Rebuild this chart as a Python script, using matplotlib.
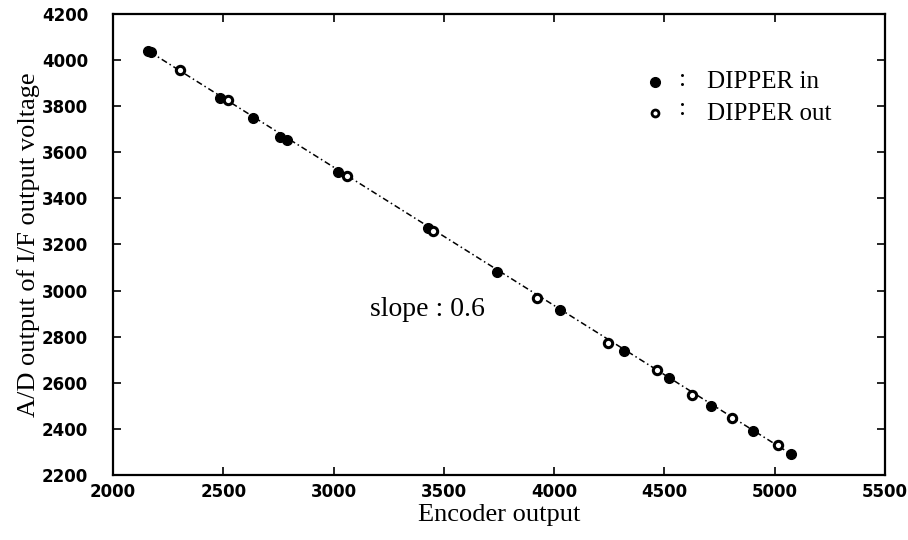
import matplotlib
matplotlib.use("Agg")
import matplotlib.pyplot as plt

# Data
in_x = [2160, 2174, 2485, 2635, 2757, 2789, 3020, 3428, 3741, 4026, 4316, 4520, 4711, 4901, 5073]
in_y = [4038, 4034, 3836, 3749, 3666, 3653, 3515, 3272, 3081, 2916, 2738, 2621, 2499, 2391, 2291]
out_x = [2304, 2521, 3061, 3451, 3922, 4244, 4466, 4625, 4806, 5015]
out_y = [3957, 3827, 3497, 3259, 2968, 2773, 2656, 2547, 2447, 2330]
fit_x = [2168, 5073]
fit_y = [4035, 2291]

x_ticks = [2000, 2500, 3000, 3500, 4000, 4500, 5000, 5500]
y_ticks = [2200, 2400, 2600, 2800, 3000, 3200, 3400, 3600, 3800, 4000, 4200]
x_labels = ["2000", "2500", "3000", "3500", "4000", "4500", "5000", "5500"]
y_labels = ["2200", "2400", "2600", "2800", "3000", "3200", "3400", "3600", "3800", "4000", "4200"]

lab = dict(family=["Liberation Serif", "DejaVu Serif"])
fs = 19
tick_font = {"family": "DejaVu Sans", "weight": "bold", "size": 12}

fig = plt.figure(figsize=(9.08, 5.40), dpi=100)
ax = fig.add_axes([0.1245, 0.1204, 0.8502, 0.8537])

ax.plot(fit_x, fit_y, color="black", lw=1.1, linestyle=(0, (4, 2, 1, 2)), zorder=1)
ax.plot(in_x, in_y, linestyle="none", marker="o", ms=7, mfc="black", mec="black", zorder=3)
ax.plot(out_x, out_y, linestyle="none", marker="o", ms=6, mfc="white", mec="black", mew=2.2, zorder=3)

ax.set_xlim(2000, 5500)
ax.set_ylim(2200, 4200)
ax.set_xticks(x_ticks)
ax.set_xticklabels(x_labels, fontdict=tick_font)
ax.set_yticks(y_ticks)
ax.set_yticklabels(y_labels, fontdict=tick_font)
ax.tick_params(direction="in", length=6, width=1.2, top=True, right=True)
ax.tick_params(axis="x", pad=6)
ax.tick_params(axis="y", pad=18)
for s in ax.spines.values():
    s.set_linewidth(1.6)

ax.set_xlabel("Encoder output", fontsize=fs, labelpad=2, **lab)
ax.set_ylabel("A/D output of I/F output voltage", fontsize=fs, labelpad=1, **lab)

# legend drawn as markers + text
ax.plot([4457], [3905], linestyle="none", marker="o", ms=7, mfc="black", mec="black", zorder=3)
ax.plot([4457], [3770], linestyle="none", marker="o", ms=5, mfc="white", mec="black", mew=2, zorder=3)
ax.text(4584, 3912, ":", fontsize=18, va="center", ha="center", **lab)
ax.text(4584, 3787, ":", fontsize=18, va="center", ha="center", **lab)
ax.text(4693, 3905, "DIPPER in", fontsize=18, va="center", ha="left", **lab)
ax.text(4693, 3765, "DIPPER out", fontsize=18, va="center", ha="left", **lab)

ax.text(3165, 2916, "slope : 0.6", fontsize=20, va="center", ha="left", **lab)

fig.savefig("out.png", dpi=100)
